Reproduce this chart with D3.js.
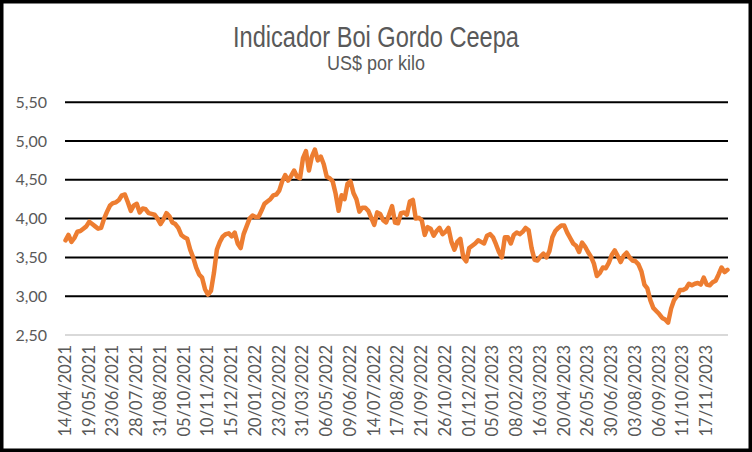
<!DOCTYPE html>
<html>
<head>
<meta charset="utf-8">
<script src="https://cdn.jsdelivr.net/npm/d3@7"></script>
<style>
body { margin: 0; background: #fff; }
</style>
</head>
<body>
<script>
// US$/kg, one value every ~3 trading days
const prices = [
3.72,3.79,3.70,3.75,3.83,3.84,3.87,3.90,3.96,3.93,3.90,3.87,3.88,4.00,4.09,4.17,
4.20,4.21,4.24,4.30,4.31,4.21,4.10,4.17,4.19,4.08,4.13,4.12,4.07,4.06,4.05,4.00,
3.93,3.99,4.07,4.03,3.95,3.93,3.88,3.79,3.76,3.74,3.60,3.50,3.37,3.28,3.24,3.09,
3.02,3.07,3.30,3.60,3.70,3.77,3.80,3.81,3.77,3.82,3.68,3.62,3.80,3.90,4.00,4.04,
4.02,4.02,4.10,4.19,4.22,4.25,4.30,4.31,4.36,4.48,4.56,4.49,4.55,4.62,4.54,4.52,
4.78,4.87,4.62,4.80,4.89,4.75,4.80,4.70,4.54,4.52,4.48,4.32,4.10,4.30,4.25,4.45,
4.48,4.33,4.25,4.09,4.14,4.14,4.10,4.01,3.92,4.08,4.06,3.98,3.95,4.05,4.16,3.95,
3.94,4.07,4.08,4.05,4.22,4.24,4.00,4.01,3.98,3.79,3.89,3.87,3.78,3.84,3.88,3.80,
3.83,3.88,3.70,3.60,3.70,3.74,3.50,3.45,3.62,3.65,3.68,3.72,3.70,3.68,3.78,3.80,
3.76,3.67,3.57,3.50,3.76,3.76,3.68,3.79,3.82,3.80,3.83,3.88,3.85,3.62,3.47,3.46,
3.51,3.55,3.50,3.58,3.76,3.84,3.88,3.91,3.91,3.82,3.75,3.68,3.65,3.57,3.69,3.64,
3.57,3.51,3.42,3.26,3.30,3.37,3.36,3.43,3.53,3.59,3.52,3.44,3.52,3.56,3.50,3.46,
3.45,3.41,3.32,3.15,3.10,2.95,2.85,2.81,2.77,2.72,2.70,2.66,2.84,2.95,3.00,3.08,
3.08,3.10,3.16,3.14,3.16,3.17,3.15,3.24,3.15,3.14,3.18,3.20,3.28,3.37,3.31,3.34
];

const dateLabels = [
"14/04/2021","19/05/2021","23/06/2021","28/07/2021","31/08/2021","05/10/2021",
"10/11/2021","15/12/2021","20/01/2022","23/02/2022","31/03/2022","06/05/2022",
"09/06/2022","14/07/2022","17/08/2022","21/09/2022","26/10/2022","01/12/2022",
"05/01/2023","08/02/2023","16/03/2023","20/04/2023","26/05/2023","30/06/2023",
"03/08/2023","06/09/2023","11/10/2023","17/11/2023"
];

const yTicks = [2.5, 3, 3.5, 4, 4.5, 5, 5.5];

var labelStep = 8; // a date label every 8 samples
var w = 752;
var h = 452;
var plotLeft = 65, plotRight = 728;
var plotTop = 102.2, plotBottom = 335;
var textColor = '#595959';
var lineColor = '#ED7D31';

document.addEventListener("DOMContentLoaded", () => {
    var svg = d3.select('body')
        .append('svg')
        .attr("width", w)
        .attr("height", h);

    svg.append("rect")
        .attr("x", 1.75).attr("y", 1.75)
        .attr("width", w - 3.5).attr("height", h - 3.5)
        .style("fill", "#fff")
        .style("stroke", "#000")
        .style("stroke-width", 3.5);

    var x = d3.scaleLinear()
        .domain([0, prices.length - 1])
        .range([plotLeft + 0.5, plotRight - 0.5]);

    var y = d3.scaleLinear()
        .domain([2.5, 5.5])
        .range([plotBottom, plotTop]);

    // titles (narrow font look)
    svg.append("text")
        .attr("x", 376).attr("y", 47)
        .attr("text-anchor", "middle")
        .attr("textLength", 286)
        .attr("lengthAdjust", "spacingAndGlyphs")
        .style("font-family", "'Liberation Sans', Arial, sans-serif")
        .style("font-size", "30px")
        .style("fill", textColor)
        .text("Indicador Boi Gordo Ceepa");

    svg.append("text")
        .attr("x", 376).attr("y", 70)
        .attr("text-anchor", "middle")
        .attr("textLength", 98)
        .attr("lengthAdjust", "spacingAndGlyphs")
        .style("font-family", "'Liberation Sans', Arial, sans-serif")
        .style("font-size", "20px")
        .style("fill", textColor)
        .text("US$ por kilo");

    // gridlines
    svg.append('g').selectAll('line')
        .data(yTicks)
        .enter()
        .append('line')
        .attr("x1", plotLeft).attr("x2", plotRight)
        .attr("y1", d => y(d)).attr("y2", d => y(d))
        .style("stroke", d => d === 2.5 ? '#d9d9d9' : '#000')
        .style("stroke-width", 2);

    // y axis labels
    var yAxis = svg.append('g')
        .attr("transform", "translate(" + plotLeft + ",0)")
        .call(d3.axisLeft(y)
            .tickValues(yTicks)
            .tickSize(0)
            .tickPadding(18)
            .tickFormat(d => d.toFixed(2).replace(".", ",")));
    yAxis.select(".domain").remove();
    yAxis.selectAll("text")
        .style("font-family", "Lato, sans-serif")
        .style("font-size", "16px")
        .style("fill", textColor);

    // x axis date labels
    svg.append('g').selectAll('text')
        .data(dateLabels)
        .enter()
        .append('text')
        .attr("transform", (d, i) => "translate(" + (x(i * labelStep) + 5.5) + ",345) rotate(-90)")
        .attr("text-anchor", "end")
        .style("font-family", "Lato, sans-serif")
        .style("font-size", "16.5px")
        .style("fill", textColor)
        .text(d => d);

    // price line
    var line = d3.line()
        .x((d, i) => x(i))
        .y(d => y(d));

    svg.append("path")
        .datum(prices)
        .attr("d", line)
        .style("fill", "none")
        .style("stroke", lineColor)
        .style("stroke-width", 4.5)
        .style("stroke-linejoin", "round")
        .style("stroke-linecap", "round");
});
</script>
</body>
</html>
